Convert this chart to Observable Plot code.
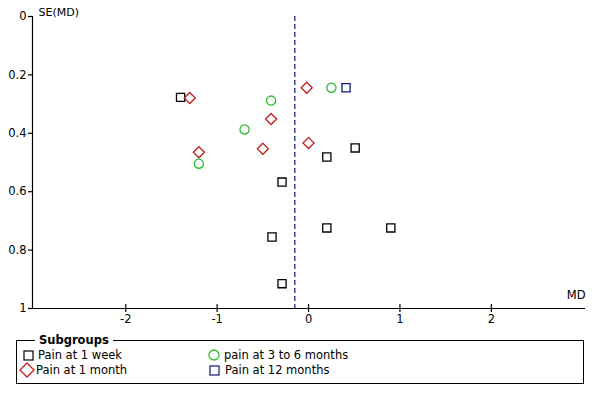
<!DOCTYPE html>
<html>
<head>
<meta charset="utf-8">
<script src="https://cdn.jsdelivr.net/npm/d3@7"></script>
<script src="https://cdn.jsdelivr.net/npm/@observablehq/plot@0.6"></script>
<style>
  html, body { margin: 0; padding: 0; background: #fff; }
  body { width: 600px; height: 400px; position: relative; font-family: "DejaVu Sans", Verdana, sans-serif; }
  #legend { position: absolute; left: 16px; top: 340px; width: 566px; height: 42px; border: 1px solid #000; }
  #legend .title { position: absolute; left: 18px; top: -9px; padding: 0 4px; background: #fff; font-weight: bold; font-size: 11.5px; line-height: 16px; }
  .item { position: absolute; font-size: 11.5px; line-height: 14px; white-space: nowrap; display: flex; align-items: center; }
  .item svg { display: block; margin-right: 4px; }
</style>
</head>
<body>
<div id="chart"></div>
<div id="legend"></div>
<script>
// Data
const seriesNames = ["Pain at 1 week", "Pain at 1 month", "pain at 3 to 6 months", "Pain at 12 months"];
const weekMD = [-1.40, 0.51, 0.20, -0.29, -0.40, -0.29, 0.20, 0.90];
const weekSE = [0.277, 0.450, 0.481, 0.567, 0.755, 0.915, 0.724, 0.724];
const monthMD = [-1.30, -0.41, -1.20, -0.50, -0.02, 0.00];
const monthSE = [0.279, 0.351, 0.465, 0.453, 0.244, 0.433];
const threeSixMD = [-0.41, -0.70, -1.20, 0.25];
const threeSixSE = [0.288, 0.387, 0.504, 0.244];
const twelveMD = [0.41];
const twelveSE = [0.244];
const pooledMD = -0.15;
const xTicks = [-2, -1, 0, 1, 2];
const yTicks = [0, 0.2, 0.4, 0.6, 0.8, 1];
const xDomain = [-3.02, 3.03];
const yDomain = [0, 1];

const colors = ["#000000", "#c41e1e", "#33bb33", "#14147a"];
const symbols = ["square", "diamond2", "circle", "square"];
const radii = [4.6, 5.0, 4.6, 4.6];

const mk = (xs, ys) => xs.map((x, i) => ({md: x, se: ys[i]}));
const groups = [mk(weekMD, weekSE), mk(monthMD, monthSE), mk(threeSixMD, threeSixSE), mk(twelveMD, twelveSE)];

const font = "DejaVu Sans, Verdana, sans-serif";

const plot = Plot.plot({
  width: 600,
  height: 332,
  marginLeft: 32,
  marginRight: 15,
  marginTop: 16,
  marginBottom: 24,
  style: {fontFamily: font, fontSize: "11.5px", background: "#fff", color: "#000"},
  x: {domain: xDomain},
  y: {domain: yDomain, reverse: true},
  marks: [
    Plot.ruleX([xDomain[0]], {y1: yDomain[0], y2: yDomain[1], stroke: "#000", strokeWidth: 1.2}),
    Plot.ruleY([yDomain[1]], {stroke: "#000", strokeWidth: 1.2}),
    Plot.axisY({ticks: yTicks, tickSize: 4, tickPadding: 2, tickFormat: d => String(d), label: null, stroke: "#000", strokeWidth: 1.2}),
    Plot.axisX({ticks: xTicks, tickSize: 4, tickPadding: 2, tickFormat: d => String(d), label: null, stroke: "#000", strokeWidth: 1.2}),
    Plot.ruleX(xTicks, {x: d => d, y1: yDomain[1], y2: yDomain[1] - 0.014, stroke: "#000", strokeWidth: 1.2}),
    Plot.ruleX([pooledMD], {y1: yDomain[0], y2: yDomain[1], stroke: "#14147a", strokeWidth: 1.2, strokeDasharray: "5,3"}),
    ...groups.map((g, i) => Plot.dot(g, {x: "md", y: "se", symbol: () => symbols[i], r: radii[i], stroke: colors[i], strokeWidth: 1.3, fill: "none"})),
    Plot.text(["SE(MD)"], {frameAnchor: "top-left", dx: 6, dy: -8, textAnchor: "start", fontSize: 11}),
    Plot.text(["MD"], {frameAnchor: "bottom-right", dy: -10, textAnchor: "end", fontSize: 11.5})
  ]
});
document.getElementById("chart").appendChild(plot);

// Legend (HTML below the SVG)
const legend = document.getElementById("legend");
const t = document.createElement("div");
t.className = "title";
t.textContent = "Subgroups";
legend.appendChild(t);

const legendSym = (i, size) => {
  const s = size;
  const r = s / 2;
  let shape;
  const c = colors[i];
  if (symbols[i] === "square") shape = `<rect x="1" y="1" width="${s - 2}" height="${s - 2}" fill="none" stroke="${c}" stroke-width="1.2"/>`;
  else if (symbols[i] === "circle") shape = `<circle cx="${r}" cy="${r}" r="${r - 1}" fill="none" stroke="${c}" stroke-width="1.3"/>`;
  else shape = `<path d="M${r},1 L${s - 1},${r} L${r},${s - 1} L1,${r} Z" fill="none" stroke="${c}" stroke-width="1.3"/>`;
  return `<svg width="${s}" height="${s}" viewBox="0 0 ${s} ${s}">${shape}</svg>`;
};
const pos = [
  {left: 6, top: 7, size: 11, textGap: 4},
  {left: 2, top: 21, size: 16, textGap: 1},
  {left: 191, top: 7, size: 12, textGap: 4},
  {left: 192, top: 22, size: 11, textGap: 5}
];
seriesNames.forEach((name, i) => {
  const d = document.createElement("div");
  d.className = "item";
  d.style.left = pos[i].left + "px";
  d.style.top = pos[i].top + "px";
  d.innerHTML = legendSym(i, pos[i].size) + `<span style="margin-left:${pos[i].textGap - 4}px">${name}</span>`;
  legend.appendChild(d);
});
</script>
</body>
</html>
